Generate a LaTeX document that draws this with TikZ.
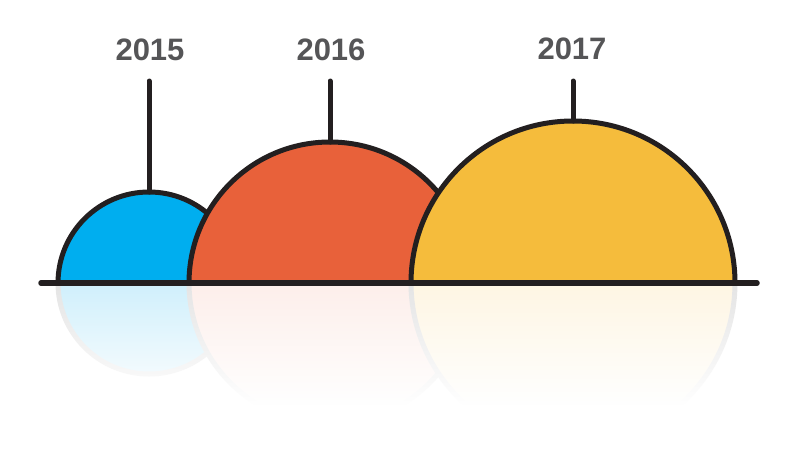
\documentclass[tikz,border=0pt]{standalone}
\usepackage{fontspec}
\setmainfont{Liberation Sans}
\usepackage{tikz}
\usetikzlibrary{fadings}
\definecolor{linedark}{RGB}{35,31,32}
\definecolor{labelgray}{RGB}{85,85,87}
\definecolor{skyblue}{RGB}{0,174,239}
\definecolor{brickorange}{RGB}{232,97,58}
\definecolor{sunyellow}{RGB}{245,188,60}
\tikzfading[name=fadedown,top color=transparent!100,bottom color=transparent!0]

\begin{document}
\begin{tikzpicture}[
  x=1pt,y=-1pt,
  dome/.style={draw=linedark,line width=5pt},
  mirror/.style={draw=black!10,line width=5pt},
  stem/.style={draw=linedark,line width=5pt,line cap=round},
  year/.style={font=\fontsize{31}{33}\selectfont\bfseries,text=labelgray}
]
\useasboundingbox (0,0) rectangle (800,450);

% reflections under the base line
\filldraw[mirror,fill=skyblue!18] (58,283) arc[start angle=180,end angle=0,radius=91];
\filldraw[mirror,fill=brickorange!10] (189,283) arc[start angle=180,end angle=0,radius=141];
\filldraw[mirror,fill=sunyellow!14] (411,283) arc[start angle=180,end angle=0,radius=162];
\fill[white,path fading=fadedown] (0,286) rectangle (800,405);
\fill[white] (0,405) rectangle (800,450);

% domes
\filldraw[dome,fill=skyblue] (58,283) arc[start angle=180,end angle=360,radius=91];
\filldraw[dome,fill=brickorange] (189,283) arc[start angle=180,end angle=360,radius=141];
\filldraw[dome,fill=sunyellow] (411,283) arc[start angle=180,end angle=360,radius=162];

% base line
\coordinate (baseL) at (41,283);
\coordinate (baseR) at (757,283);
\draw[stem,line width=5.5pt] (baseL) -- (baseR);

% stems and years
\coordinate (top15) at (149,192);
\coordinate (top16) at (330,142);
\coordinate (top17) at (573,121);
\coordinate (pin15) at (149,81);
\coordinate (pin16) at (330,81);
\coordinate (pin17) at (573,81);
\draw[stem] (pin15) -- (top15);
\draw[stem] (pin16) -- (top16);
\draw[stem] (pin17) -- (top17);
\node[year] (y15) at (150,50) {2015};
\node[year] (y16) at (331,50) {2016};
\node[year] (y17) at (572,49) {2017};
\end{tikzpicture}
\end{document}
